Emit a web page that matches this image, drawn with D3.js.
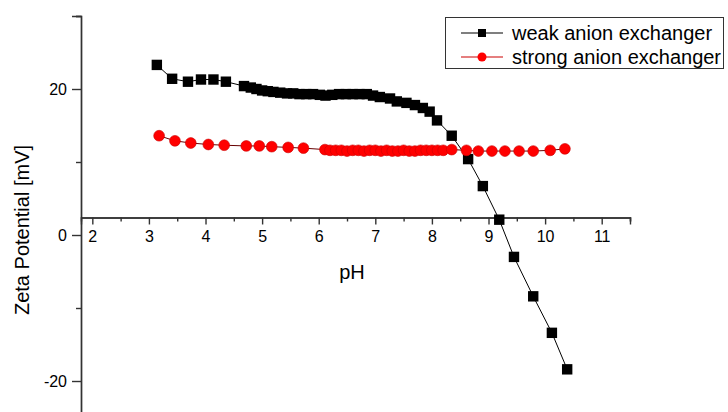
<!DOCTYPE html>
<html>
<head>
<meta charset="utf-8">
<script src="https://cdn.jsdelivr.net/npm/d3@7/dist/d3.min.js"></script>
<style>
  body { margin: 0; background: #fff; }
  text { font-family: "Liberation Sans", Arial, sans-serif; fill: #000; }
</style>
</head>
<body>
<div id="content"></div>
<script>
// weak anion exchanger (black squares)
const weakPH = [3.14, 3.41, 3.69, 3.92, 4.14, 4.36, 4.68, 4.80, 4.90, 5.00, 5.10, 5.20, 5.32, 5.44, 5.55, 5.66,
  5.78, 5.90, 6.02, 6.12, 6.24, 6.36, 6.48, 6.60, 6.72, 6.85, 6.96, 7.08, 7.26, 7.38, 7.55, 7.70, 7.84, 7.96,
  8.09, 8.35, 8.64, 8.90, 9.19, 9.45, 9.79, 10.12, 10.39];
const weakZeta = [23.3, 21.4, 21.0, 21.3, 21.3, 21.0, 20.4, 20.2, 20.0, 19.8, 19.7, 19.6, 19.5, 19.4, 19.4, 19.3,
  19.3, 19.3, 19.2, 19.1, 19.2, 19.3, 19.3, 19.3, 19.3, 19.3, 19.1, 18.9, 18.7, 18.3, 18.1, 17.8, 17.4, 16.9,
  15.7, 13.6, 10.4, 6.7, 2.1, -3.0, -8.4, -13.4, -18.4];

// strong anion exchanger (red circles)
const strongPH = [3.18, 3.46, 3.74, 4.05, 4.33, 4.72, 4.95, 5.17, 5.46, 5.73, 6.11, 6.20, 6.30, 6.40, 6.50, 6.60,
  6.70, 6.80, 6.90, 7.00, 7.10, 7.20, 7.30, 7.40, 7.50, 7.60, 7.70, 7.80, 7.90, 8.00, 8.10, 8.20, 8.35, 8.61,
  8.82, 9.06, 9.29, 9.54, 9.79, 10.09, 10.35];
const strongZeta = [13.6, 12.9, 12.6, 12.4, 12.3, 12.2, 12.2, 12.1, 12.0, 11.9, 11.7, 11.6, 11.6, 11.6, 11.5, 11.6,
  11.6, 11.5, 11.6, 11.6, 11.5, 11.6, 11.5, 11.5, 11.6, 11.5, 11.5, 11.6, 11.6, 11.6, 11.6, 11.6, 11.7, 11.6,
  11.5, 11.5, 11.5, 11.5, 11.5, 11.6, 11.8];

const xMajor = [2, 3, 4, 5, 6, 7, 8, 9, 10, 11];
const xMinor = [2.5, 3.5, 4.5, 5.5, 6.5, 7.5, 8.5, 9.5, 10.5, 11.5];
const yMajor = [-20, 0, 20];
const yMinor = [-10, 10, 30];
const seriesNames = ['weak anion exchanger', 'strong anion exchanger'];

const width = 728, height = 412;

let svg = d3.select('#content')
  .append('svg')
  .attr('width', width)
  .attr('height', height);

let x = d3.scaleLinear().domain([1.8, 11.5]).range([81, 630]);
let y = d3.scaleLinear().domain([30, -24.3]).range([16, 412.4]);
let xAxisY = y(2.4);

// Y axis
let yAxis = svg.append('g').attr('transform', 'translate(' + x(1.8) + ',0)');
yAxis.call(d3.axisLeft(y).tickValues(yMinor).tickSize(5).tickFormat(''));
yAxis.append('g').call(d3.axisLeft(y).tickValues(yMajor).tickSize(9).tickPadding(5).tickFormat(d => String(d)));

// X axis
let xAxis = svg.append('g').attr('transform', 'translate(0,' + xAxisY + ')');
xAxis.call(d3.axisBottom(x).tickValues(xMinor).tickSize(4).tickFormat(''));
xAxis.append('g').call(d3.axisBottom(x).tickValues(xMajor).tickSize(7).tickPadding(6));

svg.selectAll('.domain').attr('stroke', '#333').attr('stroke-width', 1.4);
svg.selectAll('.tick line').attr('stroke', '#333').attr('stroke-width', 1.4);
svg.selectAll('.tick text').attr('font-size', 16).attr('fill', '#000')
  .attr('font-family', '"Liberation Sans", Arial, sans-serif');

// Axis titles
svg.append('text')
  .attr('transform', 'translate(29,230) rotate(-90)')
  .attr('text-anchor', 'middle')
  .attr('font-size', 20)
  .text('Zeta Potential [mV]');

svg.append('text')
  .attr('x', 352).attr('y', 279)
  .attr('text-anchor', 'middle')
  .attr('font-size', 20)
  .text('pH');

// Series
let weak = weakPH.map((p, i) => ({x: p, y: weakZeta[i]}));
let strong = strongPH.map((p, i) => ({x: p, y: strongZeta[i]}));
let line = d3.line().x(d => x(d.x)).y(d => y(d.y));

svg.append('path').datum(weak).attr('d', line)
  .attr('fill', 'none').attr('stroke', '#000').attr('stroke-width', 1);
svg.append('path').datum(strong).attr('d', line)
  .attr('fill', 'none').attr('stroke', '#600').attr('stroke-width', 1);

svg.selectAll('.sq')
  .data(weak)
  .enter()
  .append('rect')
  .attr('x', d => x(d.x) - 5.2)
  .attr('y', d => y(d.y) - 5.2)
  .attr('width', 10.4).attr('height', 10.4)
  .attr('fill', '#000');

svg.selectAll('.dot')
  .data(strong)
  .enter()
  .append('circle')
  .attr('r', 5.4)
  .attr('cx', d => x(d.x))
  .attr('cy', d => y(d.y))
  .attr('fill', '#f00')
  .attr('stroke', '#c00')
  .attr('stroke-width', 0.6);

// Legend
let legend = svg.append('g');
legend.append('rect')
  .attr('x', 445.5).attr('y', 17.5).attr('width', 278).attr('height', 51)
  .attr('fill', '#fff').attr('stroke', '#333').attr('stroke-width', 1);

seriesNames.forEach((name, i) => {
  let ly = 33 + i * 24;
  legend.append('line')
    .attr('x1', 461).attr('x2', 503).attr('y1', ly).attr('y2', ly)
    .attr('stroke', i === 0 ? '#000' : '#c00').attr('stroke-width', 1.2);
  if (i === 0) {
    legend.append('rect').attr('x', 478).attr('y', ly - 4).attr('width', 8).attr('height', 8).attr('fill', '#000');
  } else {
    legend.append('circle').attr('cx', 482).attr('cy', ly).attr('r', 4.5).attr('fill', '#f00');
  }
  legend.append('text')
    .attr('x', 512).attr('y', ly + 7)
    .attr('font-size', 20)
    .text(name);
});
</script>
</body>
</html>
